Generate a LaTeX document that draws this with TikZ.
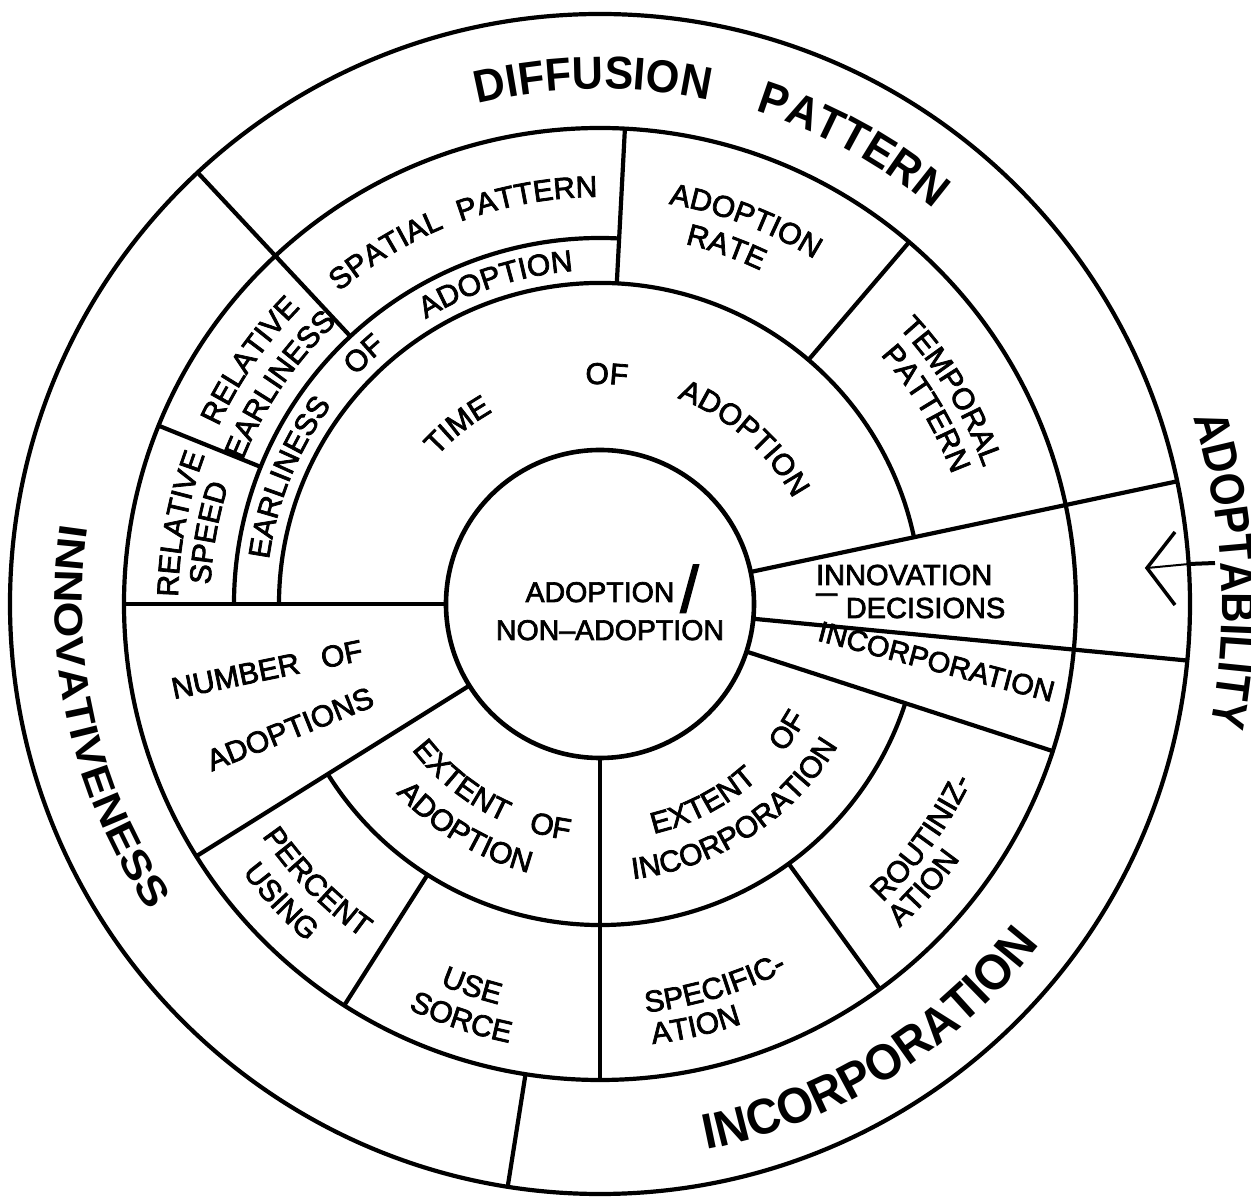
\documentclass[tikz,border=0pt]{standalone}
\usepackage{fontspec}
\setmainfont{Liberation Sans}[FakeBold=2.5]
\newfontfamily\widesans{Liberation Sans}[FakeStretch=1.15]
\newfontfamily\midsans{Liberation Sans}[FakeStretch=0.94]
\newfontfamily\narrowsans{Liberation Sans}[FakeStretch=0.88]
\usetikzlibrary{decorations.text}

% fonts of the labels
\newcommand\regfont{\fontsize{30pt}{32pt}\selectfont}
\newcommand\smallfont{\fontsize{29pt}{31pt}\selectfont}
\newcommand\corefont{\fontsize{28.5pt}{30pt}\selectfont}
\newcommand\diffont{\fontsize{46pt}{48pt}\midsans\bfseries}
\newcommand\incfont{\fontsize{50pt}{52pt}\midsans\bfseries}
\newcommand\innfont{\fontsize{40pt}{42pt}\widesans\bfseries}
\newcommand\adpfont{\fontsize{48pt}{50pt}\narrowsans\bfseries}

% text on a circle round the centre: baseline radius, centre angle, font, text
% clockwise: letter tops point away from the centre
\newcommand\cwlabel[4]{%
  \path[decorate,decoration={text along path,text align=center,text={|#3|#4}}]
    ({#2+60}:#1) arc[start angle={#2+60},end angle={#2-60},radius=#1];}
% counter-clockwise: letter tops point to the centre
\newcommand\ccwlabel[4]{%
  \path[decorate,decoration={text along path,text align=center,text={|#3|#4}}]
    ({#2-60}:#1) arc[start angle={#2-60},end angle={#2+60},radius=#1];}

\begin{document}
\begin{tikzpicture}[x=1pt,y=1pt,line width=4.2pt,
  flat/.style={inner sep=0pt}]
\clip (-600,-594) rectangle (651,604);
\fill[white] (-600,-594) rectangle (651,604);

% rings
\draw[line width=4.6pt] (0,0) circle[radius=154];
\draw (0,0) circle[radius=476];
\draw (0,0) circle[radius=590];
\draw (12:321) arc[start angle=12,end angle=180,radius=321];
\draw (212:321) arc[start angle=212,end angle=342,radius=321];
\draw (87:366) arc[start angle=87,end angle=180,radius=366];

% radial dividers: angle / inner radius / outer radius
\foreach \a/\ri/\ro in {180/154/476, 212/154/476, 237.5/321/476, 261/476/590,
    270/154/476, 306/321/476, 342/154/476, 354.5/154/590, 12/154/590,
    49.5/321/476, 87/321/476, 133/366/590, 158/366/476}
  \draw (\a:\ri) -- (\a:\ro);

% arrow into the adoptability wedge
\coordinate (tip) at (547,36);
\coordinate (barbA) at (575,72);
\coordinate (barbB) at (575,-1);
\coordinate (rim) at (589,40);
\coordinate (tail) at (615,41);
\draw[line width=3.5pt] (barbA) -- (tip) -- (barbB);
\draw[line width=2pt] (tip) -- (rim);
\draw[line width=4pt] (rim) -- (tail);

% outer band
\cwlabel{515}{90.75}{\diffont}{DIFFUSION}
\cwlabel{517}{61.15}{\diffont}{PATTERN}
\ccwlabel{545}{192.9}{\innfont}{INNOVATIVENESS}
\ccwlabel{556}{301.65}{\incfont}{INCORPORATION}
\cwlabel{622}{3.1}{\adpfont}{ADOPTABILITY}

% upper half
\cwlabel{220}{128.5}{\regfont}{TIME}
\cwlabel{220}{88.3}{\regfont}{OF}
\cwlabel{220}{49}{\regfont}{ADOPTION}
\cwlabel{334}{157.9}{\regfont}{EARLINESS}
\cwlabel{334}{133.4}{\regfont}{OF}
\cwlabel{334}{108}{\regfont}{ADOPTION}
\cwlabel{407}{121.2}{\regfont}{SPATIAL}
\cwlabel{407}{100.2}{\regfont}{PATTERN}
\cwlabel{421}{145.2}{\regfont}{RELATIVE}
\cwlabel{385}{145.6}{\regfont}{EARLINESS}
\cwlabel{422}{169.2}{\regfont}{RELATIVE}
\cwlabel{390}{169.7}{\regfont}{SPEED}
\cwlabel{406}{69.2}{\regfont}{ADOPTION}
\cwlabel{370}{70.5}{\regfont}{RATE}
\cwlabel{407}{31.2}{\regfont}{TEMPORAL}
\cwlabel{375}{30.9}{\regfont}{PATTERN}

% lower half
\ccwlabel{238}{232}{\regfont}{EXTENT}
\ccwlabel{238}{257.5}{\regfont}{OF}
\ccwlabel{278}{239}{\regfont}{ADOPTION}
\ccwlabel{236}{297.5}{\regfont}{EXTENT}
\ccwlabel{236}{326}{\regfont}{OF}
\ccwlabel{277}{303}{\regfont}{INCORPORATION}
\ccwlabel{410}{224.5}{\regfont}{PERCENT}
\ccwlabel{447}{223}{\regfont}{USING}
\ccwlabel{413}{251.5}{\regfont}{USE}
\ccwlabel{448}{251.5}{\regfont}{SORCE}
\ccwlabel{411}{286.75}{\regfont}{SPECIFIC-}
\ccwlabel{443}{282.75}{\regfont}{ATION}
\ccwlabel{411}{324}{\regfont}{ROUTINIZ-}
\ccwlabel{441}{318.75}{\regfont}{ATION}

% straight labels
\node[flat,rotate=11.6,font=\regfont] (numberof) at (-333,-65.5) {NUMBER\hspace{0.75em}OF};
\node[flat,rotate=21.9,font=\regfont] (adoptions) at (-310,-125) {ADOPTIONS};
\node[flat,rotate=-14.7,font=\smallfont] (incorp) at (336.5,-57.5) {INCORPORATION};
\node[flat,anchor=base west,font=\smallfont] (innov) at (214,19) {INNOVATION};
\node[flat,anchor=base west,font=\smallfont] (decis) at (214,-14) {\raisebox{0.55em}{\scalebox{1.3}[1]{–}}\hspace{0.3em}DECISIONS};

% centre
\node[flat,anchor=base,font=\corefont] (core) at (0,2) {ADOPTION};
\node[flat,anchor=base,font=\corefont] (noncore) at (10,-36) {NON–ADOPTION};
\node[flat,anchor=base,font=\fontsize{65pt}{66pt}\selectfont] (slash) at (89.5,-8) {/};
\end{tikzpicture}
\end{document}
